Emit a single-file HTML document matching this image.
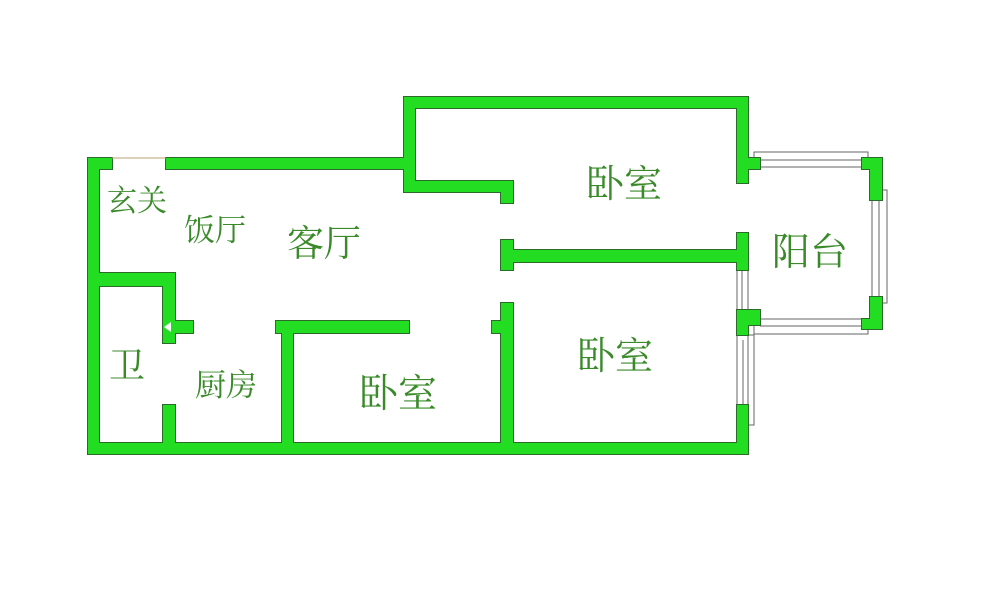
<!DOCTYPE html>
<html><head><meta charset="utf-8"><style>
html,body{margin:0;padding:0;background:#fff}
svg{display:block}
text{font-family:"Liberation Serif","Noto Serif CJK SC",serif;fill:#3a8a2a}
</style></head><body>
<svg width="1000" height="600" viewBox="0 0 1000 600" xmlns="http://www.w3.org/2000/svg">
<defs>
<g id="w">
  <rect x="88" y="158" width="11" height="296"/>
  <rect x="88" y="158" width="24" height="11"/>
  <rect x="166" y="158" width="249" height="11"/>
  <rect x="404" y="97" width="11" height="95"/>
  <rect x="404" y="181" width="109" height="11"/>
  <rect x="501" y="181" width="12" height="22"/>
  <rect x="404" y="97" width="344" height="11"/>
  <rect x="737" y="97" width="11" height="86"/>
  <rect x="737" y="158" width="23" height="11"/>
  <rect x="862" y="158" width="20" height="11"/>
  <rect x="870" y="158" width="12" height="42"/>
  <rect x="870" y="297" width="12" height="32"/>
  <rect x="862" y="319" width="20" height="10"/>
  <rect x="737" y="310" width="23" height="15"/>
  <rect x="737" y="310" width="11" height="25"/>
  <rect x="501" y="250" width="247" height="12"/>
  <rect x="501" y="240" width="12" height="30"/>
  <rect x="737" y="233" width="11" height="37"/>
  <rect x="737" y="405" width="11" height="49"/>
  <rect x="501" y="303" width="12" height="151"/>
  <rect x="492" y="321" width="10" height="12"/>
  <rect x="88" y="443" width="660" height="11"/>
  <rect x="276" y="321" width="133" height="12"/>
  <rect x="282" y="321" width="11" height="122"/>
  <rect x="88" y="273" width="87" height="13"/>
  <rect x="163" y="273" width="12" height="70"/>
  <rect x="175" y="321" width="18" height="12"/>
  <rect x="163" y="405" width="12" height="38"/>
</g>
</defs>
<g fill="#fff" stroke="#666" stroke-width="1">
  <rect x="754" y="152" width="114" height="15"/>
  <line x1="760" y1="160" x2="862" y2="160"/>
  <rect x="754" y="319" width="114" height="15"/>
  <line x1="760" y1="326" x2="862" y2="326"/>
  <rect x="872" y="190" width="15" height="113"/>
  <line x1="879" y1="196" x2="879" y2="297"/>
  <rect x="737" y="268" width="11" height="44"/>
  <line x1="742" y1="268" x2="742" y2="312"/>
  <rect x="737" y="335" width="13" height="72"/>
  <rect x="748" y="335" width="6" height="90"/>
  <line x1="743" y1="340" x2="743" y2="405"/>
</g>
<use href="#w" fill="#2c6a2c" stroke="#2c6a2c" stroke-width="2"/>
<use href="#w" fill="#22dd22"/>
<polygon points="164,327 171,322 171,332" fill="#fff"/>
<line x1="112" y1="158" x2="166" y2="158" stroke="#b8a070" stroke-width="1"/>
<text x="107" y="211" font-size="30">玄关</text>
<text x="184" y="241" font-size="31">饭厅</text>
<text x="287" y="256" font-size="37">客厅</text>
<text x="109" y="378" font-size="36">卫</text>
<text x="195" y="396" font-size="31">厨房</text>
<text x="359" y="407" font-size="39">卧室</text>
<text x="586" y="197" font-size="38">卧室</text>
<text x="577" y="369" font-size="38">卧室</text>
<text x="772" y="265" font-size="38">阳台</text>
</svg>
</body></html>
